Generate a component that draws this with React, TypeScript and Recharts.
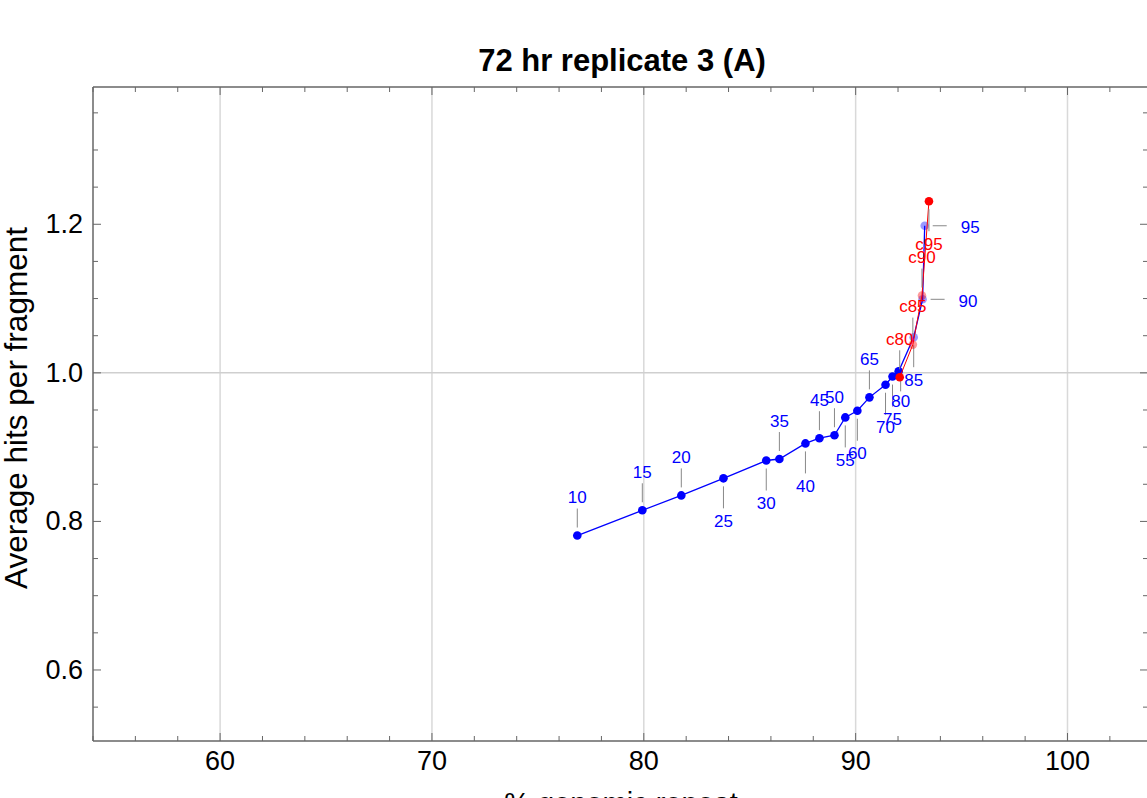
import React from 'react';
import { ScatterChart, Scatter, XAxis, YAxis, ReferenceLine } from 'recharts';

// blue series: subsample level -> % coverage and average hits
const blueLabels = ['10', '15', '20', '25', '30', '35', '40', '45', '50', '55', '60', '65', '70', '75', '80', '85', '90', '95'];
const blueCoverage = [76.86, 79.93, 81.77, 83.76, 85.78, 86.40, 87.63, 88.29, 89.0, 89.51, 90.08, 90.65, 91.41, 91.74, 92.03, 92.74, 93.16, 93.26];
const blueHits = [0.781, 0.815, 0.835, 0.858, 0.882, 0.884, 0.905, 0.912, 0.916, 0.940, 0.949, 0.967, 0.984, 0.995, 1.002, 1.048, 1.099, 1.198];
const bluePlacement = ['up', 'up', 'up', 'down', 'down', 'up', 'down', 'up', 'up', 'down', 'down', 'up', 'down', 'down', 'near', 'down', 'right', 'right'];

// red series
const redLabels = ['c80', 'c85', 'c90', 'c95'];
const redCoverage = [92.08, 92.70, 93.13, 93.46];
const redHits = [0.994, 1.038, 1.104, 1.231];
const redPlacement = ['up', 'up', 'up', 'down'];

const fadedPoints = ['85', '90', '95', 'c85', 'c90'];

const xTicks = [54, 56, 58, 60, 62, 64, 66, 68, 70, 72, 74, 76, 78, 80, 82, 84, 86, 88, 90, 92, 94, 96, 98, 100, 102];
const xMajor = [60, 70, 80, 90, 100];
const yTicks = [0.55, 0.6, 0.65, 0.7, 0.75, 0.8, 0.85, 0.9, 0.95, 1.0, 1.05, 1.1, 1.15, 1.2, 1.25, 1.3, 1.35];
const yMajor = [0.6, 0.8, 1.0, 1.2];

const blueData = blueLabels.map((label, i) => ({ x: blueCoverage[i], y: blueHits[i], label, place: bluePlacement[i] }));
const redData = redLabels.map((label, i) => ({ x: redCoverage[i], y: redHits[i], label, place: redPlacement[i] }));

const FONT = '"Liberation Sans", Arial, Helvetica, sans-serif';
const AXIS = '#666';

const offsets: Record<string, { dx: number; dy: number }> = {
  up: { dx: 0, dy: -38 },
  down: { dx: 0, dy: 43 },
  near: { dx: 2, dy: 30 },
  right: { dx: 36, dy: 2 },
};

const isMajor = (v: number, majors: number[]) => majors.some((m) => Math.abs(m - v) < 1e-6);

const makePoint = (color: string) => (props: any) => {
  const { cx, cy, payload } = props;
  if (cx == null || cy == null) return <g />;
  const off = offsets[payload.place];
  const faded = fadedPoints.includes(payload.label);
  let leader;
  if (payload.place === 'right') {
    leader = <line x1={cx + 8} y1={cy} x2={cx + 22} y2={cy} stroke="#888" />;
  } else if (payload.place === 'up') {
    leader = <line x1={cx} y1={cy - 8} x2={cx} y2={cy - 27} stroke="#888" />;
  } else if (payload.place === 'near') {
    leader = <line x1={cx + 2} y1={cy + 7} x2={cx + 2} y2={cy + 20} stroke="#888" />;
  } else {
    leader = <line x1={cx} y1={cy + 8} x2={cx} y2={cy + 30} stroke="#888" />;
  }
  return (
    <g>
      <circle cx={cx} cy={cy} r={4.3} fill={color} fillOpacity={faded ? 0.4 : 1} />
      {leader}
      <text
        x={cx + off.dx}
        y={cy + off.dy}
        textAnchor={payload.place === 'right' ? 'start' : 'middle'}
        dominantBaseline="central"
        fontSize={17}
        fontFamily={FONT}
        fill={color}
      >
        {payload.label}
      </text>
    </g>
  );
};

const BottomTick = (props: any) => {
  const { x, y, payload } = props;
  const major = isMajor(payload.value, xMajor);
  return (
    <g>
      <line x1={x} y1={y} x2={x} y2={y - (major ? 8 : 5)} stroke={AXIS} />
      {major && (
        <text x={x} y={y + 20} textAnchor="middle" dominantBaseline="central" fontSize={27} fontFamily={FONT} fill="#000">
          {payload.value}
        </text>
      )}
    </g>
  );
};

const TopTick = (props: any) => {
  const { x, y, payload } = props;
  const major = isMajor(payload.value, xMajor);
  return <line x1={x} y1={y} x2={x} y2={y + (major ? 8 : 5)} stroke={AXIS} />;
};

const LeftTick = (props: any) => {
  const { x, y, payload } = props;
  const major = isMajor(payload.value, yMajor);
  return (
    <g>
      <line x1={x} y1={y} x2={x + (major ? 8 : 5)} y2={y} stroke={AXIS} />
      {major && (
        <text x={x - 10} y={y} textAnchor="end" dominantBaseline="central" fontSize={27} fontFamily={FONT} fill="#000">
          {payload.value.toFixed(1)}
        </text>
      )}
    </g>
  );
};

const RightTick = (props: any) => {
  const { x, y, payload } = props;
  const major = isMajor(payload.value, yMajor);
  return <line x1={x} y1={y} x2={x - (major ? 8 : 5)} y2={y} stroke={AXIS} />;
};

const X_DOMAIN: [number, number] = [54.0, 103.8];
const Y_DOMAIN: [number, number] = [0.5044, 1.3848];

export default function App() {
  return (
    <div style={{ position: 'absolute', left: 0, top: 0, width: 1147, height: 798, overflow: 'hidden', background: '#fff' }}>
      <ScatterChart width={1160} height={830} margin={{ top: 86, right: 11, bottom: 88, left: 92 }}>
        <XAxis
          xAxisId="bottom"
          orientation="bottom"
          type="number"
          dataKey="x"
          domain={X_DOMAIN}
          ticks={xTicks}
          allowDataOverflow
          height={1}
          tickSize={0}
          tickMargin={0}
          tickLine={false}
          axisLine={{ stroke: AXIS, strokeWidth: 1.5 }}
          tick={BottomTick}
          interval={0}
        />
        <XAxis
          xAxisId="top"
          orientation="top"
          type="number"
          dataKey="x"
          domain={X_DOMAIN}
          ticks={xTicks}
          allowDataOverflow
          height={1}
          tickSize={0}
          tickMargin={0}
          tickLine={false}
          axisLine={{ stroke: AXIS, strokeWidth: 1.5 }}
          tick={TopTick}
          interval={0}
        />
        <YAxis
          yAxisId="left"
          orientation="left"
          type="number"
          dataKey="y"
          domain={Y_DOMAIN}
          ticks={yTicks}
          allowDataOverflow
          width={1}
          tickSize={0}
          tickMargin={0}
          tickLine={false}
          axisLine={{ stroke: AXIS, strokeWidth: 1.5 }}
          tick={LeftTick}
          interval={0}
        />
        <YAxis
          yAxisId="right"
          orientation="right"
          type="number"
          dataKey="y"
          domain={Y_DOMAIN}
          ticks={yTicks}
          allowDataOverflow
          width={1}
          tickSize={0}
          tickMargin={0}
          tickLine={false}
          axisLine={{ stroke: AXIS, strokeWidth: 1.5 }}
          tick={RightTick}
          interval={0}
        />
        {xMajor.map((v) => (
          <ReferenceLine key={v} xAxisId="bottom" yAxisId="left" x={v} stroke="#d9d9d9" strokeWidth={1.5} />
        ))}
        <ReferenceLine xAxisId="bottom" yAxisId="left" y={1} stroke="#cfcfcf" strokeWidth={1.5} />
        <Scatter
          xAxisId="bottom"
          yAxisId="left"
          data={blueData}
          fill="#0000ff"
          line={{ stroke: '#0000ff', strokeWidth: 1.3 }}
          lineType="joint"
          shape={makePoint('#0000ff')}
          isAnimationActive={false}
        />
        <Scatter
          xAxisId="bottom"
          yAxisId="left"
          data={redData}
          fill="#ff0000"
          line={{ stroke: '#ff0000', strokeWidth: 1 }}
          lineType="joint"
          shape={makePoint('#ff0000')}
          isAnimationActive={false}
        />
      </ScatterChart>
      <svg width={1147} height={798} style={{ position: 'absolute', left: 0, top: 0, pointerEvents: 'none' }}>
        <text x={622} y={60} textAnchor="middle" dominantBaseline="central" fontSize={31} fontWeight="bold" fontFamily={FONT}>
          72 hr replicate 3 (A)
        </text>
        <text
          x={16}
          y={408}
          transform="rotate(-90 16 408)"
          textAnchor="middle"
          dominantBaseline="central"
          fontSize={31.5}
          fontFamily={FONT}
        >
          Average hits per fragment
        </text>
        <text x={621} y={813} textAnchor="middle" fontSize={29} fontFamily={FONT}>
          % genomic repeat
        </text>
      </svg>
    </div>
  );
}
